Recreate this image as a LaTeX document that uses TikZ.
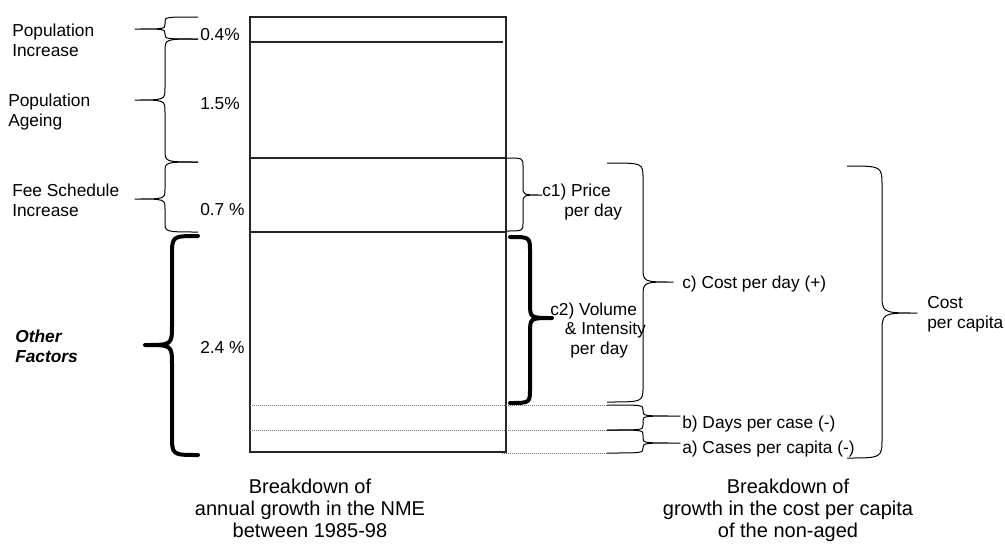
\documentclass[tikz,border=0pt]{standalone}
\usepackage{fontspec}
\setmainfont{Liberation Sans}
\newcommand\drawbrace[8]{% #1 style, #2 x end, #3 x spine, #4 x tip, #5 y top, #6 y tip, #7 y bottom, #8 radius
  \draw[#1] (#2,#5) .. controls (#3,#5) .. (#3,{#5+#8}) -- (#3,{#6-#8})
    .. controls (#3,#6) .. (#4,#6) .. controls (#3,#6) .. (#3,{#6+#8})
    -- (#3,{#7-#8}) .. controls (#3,#7) .. (#2,#7);}
\begin{document}
\begin{tikzpicture}[x=0.75pt,y=-0.75pt,
  every node/.style={inner sep=0pt, font=\fontsize{13}{14.4}\selectfont},
  lbl/.style={anchor=base west, align=left},
  captext/.style={anchor=base, align=center, font=\fontsize{15}{16.5}\selectfont},
  brthin/.style={line width=0.75pt, line join=round},
  brthick/.style={line width=3pt, line join=round, line cap=round},
  barline/.style={line width=0.8pt, draw=black!85},
  dotline/.style={densely dotted, draw=black!55, line width=0.5pt}]
\useasboundingbox (0,0) rectangle (1005,543);

% bar
\draw[barline] (250,17) rectangle (506,452);
\draw[barline] (250,42) -- (503,42);
\draw[barline] (250,158) -- (506,158);
\draw[barline] (250,232) -- (506,232);
\draw[dotline] (250,405) -- (607,405);
\draw[dotline] (250,430) -- (607,430);
\draw[dotline] (502,453) -- (607,453);

% left braces
\drawbrace{brthin}{198}{165}{135}{17}{29}{39}{5}
\drawbrace{brthin}{198}{165}{135}{39}{100}{162}{12}
\drawbrace{brthin}{198}{165}{135}{162}{199}{232}{10}
\drawbrace{brthick}{198}{172}{145}{236}{345}{455}{20}

% right braces
\drawbrace{brthin}{506}{523}{542}{158}{195}{231}{8}
\drawbrace{brthick}{510}{530}{552}{237}{318}{403}{15}
\drawbrace{brthin}{607}{643}{673}{163}{282}{402}{15}
\drawbrace{brthin}{607}{643}{680}{405}{416}{430}{5}
\drawbrace{brthin}{607}{643}{680}{430}{443}{453}{5}
\drawbrace{brthin}{847}{882}{917}{166}{313}{458}{20}

% left labels (base anchor = baseline of last line)
\node[lbl] (popinc) at (12,56) {Population\\Increase};
\node[lbl] (p04) at (200,40) {0.4\%};
\node[lbl] (popage) at (8,126) {Population\\Ageing};
\node[lbl] (p15) at (200,109) {1.5\%};
\node[lbl] (fee) at (12,216) {Fee Schedule\\Increase};
\node[lbl] (p07) at (200,215) {0.7 \%};
\node[lbl, font=\fontsize{13}{15}\selectfont\bfseries\itshape] (other) at (15,362) {Other\\Factors};
\node[lbl] (p24) at (200,353) {2.4 \%};

% right labels
\node[lbl] (c1) at (542,216) {c1) Price\\\hspace*{16.5pt}per day};
\node[lbl] (cday) at (682,288) {c) Cost per day (+)};
\node[lbl] (c2) at (550,354) {c2) Volume\\\hspace*{11pt}\& Intensity\\\hspace*{15pt}per day};
\node[lbl] (bdays) at (682,428) {b) Days per case (-)};
\node[lbl] (acases) at (682,453) {a) Cases per capita (-)};
\node[lbl] (cpc) at (927,328) {Cost\\per capita};

% captions
\node[captext] (capL) at (310,537) {Breakdown of\\annual growth in the NME\\between 1985-98};
\node[captext] (capR) at (788,537) {Breakdown of\\growth in the cost per capita\\of the non-aged};
\end{tikzpicture}
\end{document}
